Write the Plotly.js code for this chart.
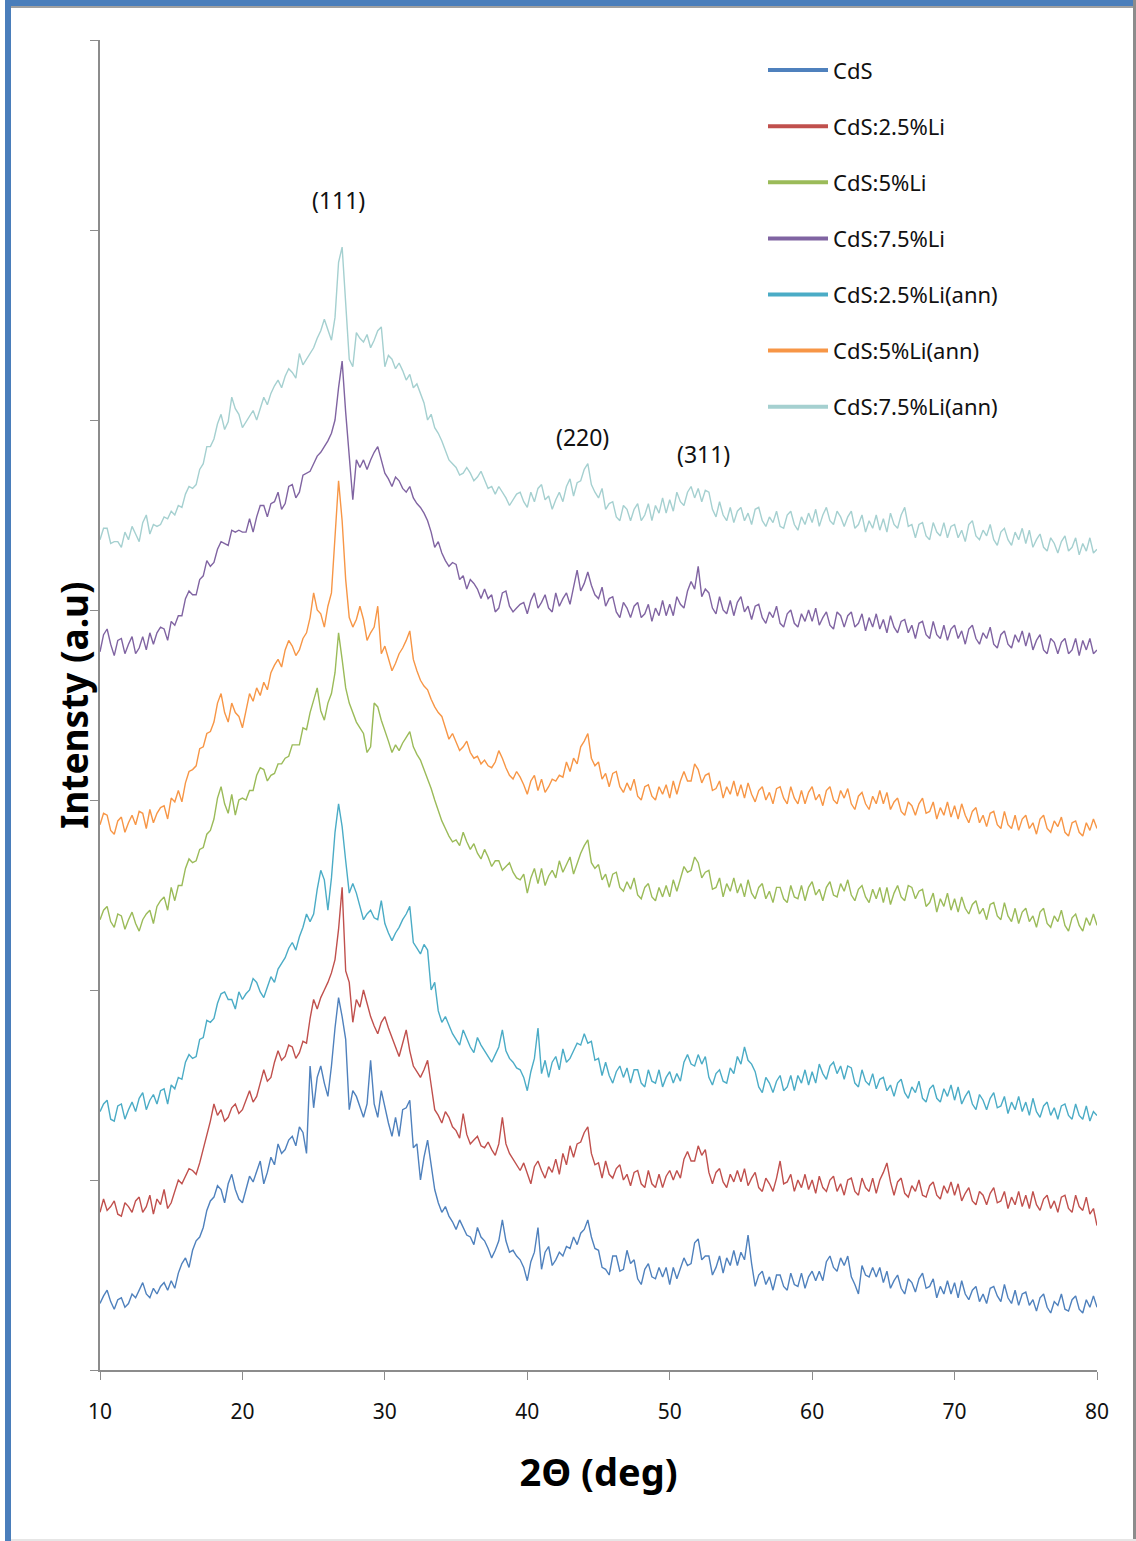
<!DOCTYPE html>
<html>
<head>
<meta charset="utf-8">
<script src="https://cdn.plot.ly/plotly-3.0.1.min.js"></script>
<style>
  html, body { margin: 0; padding: 0; background: #ffffff; }
  #wrap { position: relative; width: 1136px; height: 1541px; overflow: hidden; }
  #chart { position: absolute; left: 0; top: 0; width: 1136px; height: 1541px; }
  .frame { position: absolute; pointer-events: none; }
</style>
</head>
<body>
<div id="wrap">
  <div id="chart"></div>
  <div class="frame" style="left:5px;top:0;width:1131px;height:6px;background:#4a7ebb;"></div>
  <div class="frame" style="left:11px;top:6px;width:1122px;height:2px;background:#a0a0a0;"></div>
  <div class="frame" style="left:5px;top:0;width:6px;height:1541px;background:#4a7ebb;"></div>
  <div class="frame" style="left:1133px;top:0;width:3px;height:1541px;background:#8c8c8c;"></div>
  <div class="frame" style="left:11px;top:1539px;width:1125px;height:2px;background:#e6e6e6;"></div>
</div>
<script>
// 2-theta scan grid (degrees)
const twoThetaStart = 10;
const twoThetaStep = 0.25;
const nPoints = 281;

// Series names and colours
const seriesNames = ["CdS", "CdS:2.5%Li", "CdS:5%Li", "CdS:7.5%Li",
                     "CdS:2.5%Li(ann)", "CdS:5%Li(ann)", "CdS:7.5%Li(ann)"];
const seriesColors = ["#4f81bd", "#c0504d", "#9bbb59", "#8064a2",
                      "#4bacc6", "#f79646", "#a5d0d0"];

// Intensities (a.u., stacked), one value per 0.25 deg from 10 to 80
const cds = [
35,39,42,36,32,37,38,33,35,40,38,42,46,40,38,43,40,44,46,42,
47,43,51,56,59,54,63,68,70,75,84,89,91,97,95,88,98,103,95,90,
88,95,102,99,105,110,98,104,112,108,119,114,116,121,123,118,128,125,114,160,
138,154,160,151,144,160,180,196,186,174,137,147,144,138,133,140,163,140,133,147,
138,130,123,133,123,137,138,142,117,119,100,112,121,109,95,88,83,86,81,78,
74,79,75,71,70,66,75,70,68,64,59,63,68,79,68,62,63,60,58,54,
47,57,62,75,53,62,65,55,58,62,60,65,64,70,66,72,74,79,70,64,
63,54,53,50,60,60,52,53,63,56,58,48,45,53,56,49,48,54,49,54,
45,54,48,54,59,55,56,67,69,58,60,60,50,54,60,51,59,55,63,55,
62,58,71,56,44,50,52,45,49,42,50,50,44,42,51,45,44,51,43,49,
52,47,52,47,57,60,54,52,59,55,60,49,45,40,55,50,49,54,49,54,
46,52,43,47,50,43,40,48,46,41,48,51,43,44,48,38,44,40,47,40,
46,38,47,40,37,42,44,36,40,35,43,44,39,36,45,38,35,42,34,40,
41,34,37,31,38,40,33,30,36,34,40,32,31,37,39,32,30,37,33,39,
33];

const cdsLi25 = [
83,90,84,86,89,82,81,88,86,83,89,91,83,86,92,82,90,87,95,85,
88,94,100,98,102,106,105,103,109,116,123,131,140,134,137,131,133,138,140,135,
137,142,147,141,144,151,158,152,154,162,168,163,165,171,170,164,167,173,172,185,
195,190,196,200,204,209,216,232,254,210,204,183,195,191,200,193,186,181,177,183,
186,180,175,170,165,172,179,168,160,157,154,158,163,150,137,134,130,136,133,128,
126,122,135,124,119,121,123,118,117,120,116,113,119,133,119,114,111,108,105,109,
104,98,107,110,105,101,107,104,111,103,114,108,118,112,119,120,125,128,114,108,
109,101,110,103,101,106,108,100,103,97,104,105,98,96,105,98,96,103,96,102,
105,100,105,101,111,115,110,110,118,113,116,104,98,104,106,99,96,103,99,105,
99,106,97,101,104,96,94,101,98,94,101,110,98,99,103,94,100,96,103,95,
100,93,102,96,94,100,102,94,98,92,100,101,94,92,101,96,94,101,93,100,
104,109,99,92,99,101,93,91,97,94,100,92,91,97,99,92,90,97,93,99,
92,98,89,93,96,89,87,94,92,87,93,96,88,89,94,85,91,87,94,86,
92,85,94,87,84,90,92,85,89,83,91,92,85,83,92,86,84,91,82,85,
76];

const cdsLi5 = [
237,242,244,236,233,240,239,232,237,241,235,231,237,240,242,235,244,247,249,242,
254,247,255,255,264,269,267,268,274,275,282,284,290,301,307,298,293,303,292,300,
301,300,305,305,313,317,316,310,313,314,319,319,322,323,329,329,329,338,337,346,
353,359,347,342,351,356,367,388,374,359,351,346,341,338,335,325,328,351,349,342,
337,331,325,329,326,330,333,336,328,324,321,316,312,306,300,294,289,285,281,278,
279,276,283,278,274,277,272,269,274,270,265,268,268,263,265,267,262,259,258,261,
251,259,264,256,264,255,260,263,259,268,262,266,270,261,267,272,276,279,267,264,
266,258,261,254,261,262,254,252,257,253,259,250,248,254,256,249,247,254,249,255,
249,258,252,259,265,262,263,270,267,259,262,263,253,254,259,249,256,252,259,251,
256,249,258,251,248,254,256,248,252,246,254,254,248,246,255,249,248,255,247,254,
257,250,253,247,254,257,250,249,256,252,258,250,247,253,255,249,246,253,248,254,
246,254,245,251,255,249,247,255,254,248,252,253,244,246,251,241,248,244,251,242,
248,241,249,243,240,245,247,240,243,237,245,246,239,237,246,239,236,243,235,241,
243,236,239,233,241,243,235,233,239,236,242,234,231,238,240,234,231,238,234,240,
234];

const cdsLi75 = [
378,387,390,382,376,384,385,377,382,386,377,380,386,379,388,382,388,391,390,384,
394,392,397,397,406,410,408,408,416,418,426,423,425,432,436,435,434,442,441,442,
441,441,448,441,449,455,455,449,456,457,462,453,456,465,466,459,462,471,472,473,
477,481,483,486,489,493,500,517,531,504,479,458,479,475,479,474,479,483,486,479,
472,469,465,470,468,464,462,465,459,456,454,451,447,441,433,436,430,426,423,425,
424,416,418,411,416,414,411,406,411,406,408,399,401,409,410,402,399,401,403,404,
398,405,409,401,404,408,401,399,409,402,406,409,403,412,421,410,414,420,413,408,
406,412,402,406,407,399,396,404,401,396,402,404,396,398,403,394,401,397,405,397,
403,397,407,403,401,410,415,411,423,407,411,409,401,398,407,400,398,405,397,404,
407,399,402,395,402,403,396,393,399,396,402,393,391,398,400,393,391,398,394,400,
394,401,392,396,399,392,390,399,397,391,397,399,391,393,398,389,396,391,398,390,
395,388,397,391,388,394,395,388,392,385,393,394,387,385,394,387,385,392,384,390,
392,385,389,382,390,392,385,382,388,385,391,382,380,387,389,382,380,387,383,389,
381,388,379,384,387,379,377,385,383,377,383,385,377,379,385,376,384,379,385,377,
379];

const cdsLi25ann = [
136,140,142,132,131,139,140,132,137,141,136,143,146,137,142,145,140,147,148,140,
150,148,154,153,162,166,164,165,174,175,184,183,185,193,198,199,195,195,190,199,
195,198,200,206,204,199,196,202,207,204,211,214,217,222,225,221,228,233,240,236,
240,253,263,258,242,259,283,298,286,268,251,256,251,244,237,240,242,238,237,247,
235,230,226,230,233,237,240,244,225,222,219,224,221,200,204,189,183,186,181,177,
174,171,179,174,170,167,175,171,168,165,162,166,170,179,168,164,162,159,158,154,
147,157,164,180,156,163,154,162,165,158,169,162,164,168,172,171,177,172,173,163,
164,155,162,155,151,157,160,154,159,151,158,158,151,149,158,152,151,158,149,154,
157,151,156,152,162,166,161,160,166,161,165,154,150,156,158,152,151,159,156,165,
161,170,163,161,157,149,146,154,151,146,152,155,147,149,155,147,155,151,158,150,
157,151,161,156,153,160,162,156,160,153,160,159,151,149,158,152,150,156,148,153,
154,147,150,144,151,153,146,143,149,146,152,143,141,148,150,143,141,148,144,150,
142,149,140,144,147,140,137,145,142,137,143,146,138,139,144,135,141,137,144,136,
141,134,143,136,133,139,141,134,138,132,139,140,134,132,140,134,132,139,131,136,
134];

const cdsLi5ann = [
287,293,292,284,282,289,291,283,288,292,287,294,293,285,295,288,293,296,297,290,
301,299,305,299,309,315,316,318,327,328,335,336,341,351,356,346,341,351,346,344,
338,347,356,352,359,355,362,358,367,371,374,370,379,384,381,376,379,385,388,396,
409,400,398,391,402,409,437,468,447,416,396,391,395,402,395,384,388,391,402,377,
381,374,368,372,377,380,384,389,374,368,363,360,358,353,349,346,344,338,332,335,
330,326,328,331,325,322,323,319,321,318,317,320,326,322,317,313,311,315,312,308,
303,310,313,305,311,304,307,311,310,313,312,320,315,322,319,328,331,335,322,318,
320,311,314,307,314,315,307,304,309,305,311,302,300,307,308,302,300,307,303,308,
301,310,303,310,315,310,310,319,316,309,313,314,305,306,310,301,307,303,310,302,
308,301,309,303,299,305,307,300,304,298,306,307,301,298,307,301,298,305,298,304,
307,300,303,297,305,307,300,298,305,301,306,298,295,302,304,298,295,302,298,305,
298,304,295,299,301,294,292,299,297,292,298,301,293,294,299,290,296,292,299,291,
297,290,298,292,288,294,296,288,292,286,293,294,287,285,294,287,285,292,284,290,
292,285,288,282,290,292,285,283,289,286,291,283,281,288,289,283,281,288,284,290,
285];

const cdsLi75ann = [
437,443,443,435,436,436,433,441,437,444,440,436,446,450,440,445,444,445,449,448,
452,450,455,454,461,465,464,466,474,477,486,486,490,498,503,495,499,512,506,503,
496,499,502,505,500,506,512,508,514,518,521,517,523,527,525,522,535,529,532,535,
538,543,547,553,547,542,554,583,591,559,532,528,546,543,541,545,538,542,547,549,
528,534,532,527,530,526,521,524,517,519,514,509,500,503,496,493,489,484,479,477,
475,471,472,475,472,468,470,473,468,464,465,461,465,462,459,455,458,461,462,457,
454,462,457,464,466,458,460,453,458,462,457,465,469,460,467,468,474,477,466,462,
459,464,453,456,457,449,447,455,453,447,453,456,447,450,456,447,455,451,459,451,
458,452,462,457,455,462,465,459,464,457,463,462,453,449,457,450,447,454,446,452,
454,447,451,445,453,454,447,444,449,446,452,444,443,450,452,445,442,449,445,451,
446,453,444,450,454,447,445,452,449,444,449,452,443,445,450,441,447,443,450,442,
448,441,451,445,443,450,454,444,445,438,445,446,439,437,446,441,439,446,438,444,
445,438,442,436,445,447,439,437,442,439,445,437,434,441,443,437,434,441,437,443,
435,442,433,437,440,433,431,438,435,430,436,439,431,433,438,429,435,431,438,430,
432];

// Peak labels
const peakLabels = ["(111)", "(220)", "(311)"];
const peakLabelX = [26.75, 43.85, 52.35];
const peakLabelY = [616, 491, 482];

const xTickVals = [10, 20, 30, 40, 50, 60, 70, 80];
const xTitle = "2Θ (deg)";
const yTitle = "Intensty (a.u)";

const twoTheta = [];
for (let i = 0; i < nPoints; i++) twoTheta.push(+(twoThetaStart + i * twoThetaStep).toFixed(2));

const allSeries = [cds, cdsLi25, cdsLi5, cdsLi75, cdsLi25ann, cdsLi5ann, cdsLi75ann];

const FONT = "'Noto Sans', 'Open Sans', 'DejaVu Sans', sans-serif";

// data traces (no legend entry; thin lines)
const traces = allSeries.map((ys, i) => ({
  type: "scatter",
  mode: "lines",
  x: twoTheta,
  y: ys,
  name: seriesNames[i],
  legendgroup: "g" + i,
  showlegend: false,
  line: { color: seriesColors[i], width: 1.4 },
  hoverinfo: "x+y+name"
}));
// legend keys (thicker line, as in the original legend)
seriesNames.forEach((nm, i) => {
  traces.push({
    type: "scatter", mode: "lines", x: [null], y: [null],
    name: nm, legendgroup: "g" + i, showlegend: true,
    line: { color: seriesColors[i], width: 4 }, hoverinfo: "skip"
  });
});

const annotations = peakLabels.map((t, i) => ({
  x: peakLabelX[i], y: peakLabelY[i], xref: "x", yref: "y",
  text: t, showarrow: false,
  font: { family: FONT, size: 23, color: "#111111" }
}));
annotations.push({
  xref: "paper", yref: "paper", x: -0.027, y: 0.5,
  xanchor: "center", yanchor: "middle",
  text: "<b>" + yTitle + "</b>", textangle: -90, showarrow: false,
  font: { family: FONT, size: 37, color: "#000000" }
});

const layout = {
  width: 1136,
  height: 1541,
  margin: { l: 100, r: 39, t: 40, b: 171, pad: 0 },
  paper_bgcolor: "#ffffff",
  plot_bgcolor: "#ffffff",
  showlegend: true,
  legend: {
    x: 0.665, y: 0.993, xanchor: "left", yanchor: "top",
    bgcolor: "rgba(0,0,0,0)",
    font: { family: FONT, size: 22, color: "#111111" },
    tracegroupgap: 24.5,
    itemwidth: 60
  },
  xaxis: {
    range: [10, 80],
    tickmode: "array",
    tickvals: xTickVals,
    ticktext: xTickVals.map(String),
    ticks: "outside",
    ticklen: 8,
    tickcolor: "#8c8c8c",
    showline: true,
    linecolor: "#8c8c8c",
    linewidth: 1.5,
    showgrid: false,
    zeroline: false,
    tickfont: { family: FONT, size: 21, color: "#111111" },
    ticklabelstandoff: 14,
    title: { text: "<b>" + xTitle + "</b>", font: { family: FONT, size: 38, color: "#000000" }, standoff: 35 }
  },
  yaxis: {
    range: [0, 700],
    dtick: 100,
    tick0: 0,
    ticks: "outside",
    ticklen: 8,
    tickcolor: "#8c8c8c",
    showticklabels: false,
    showline: true,
    linecolor: "#8c8c8c",
    linewidth: 1.5,
    showgrid: false,
    zeroline: false
  },
  annotations: annotations
};

Plotly.newPlot("chart", traces, layout, { displayModeBar: false, responsive: false });
</script>
</body>
</html>
